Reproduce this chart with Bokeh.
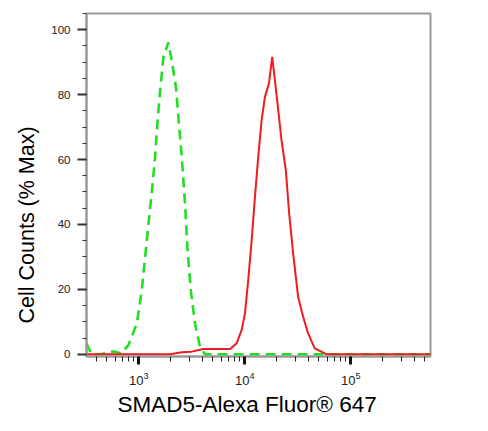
from bokeh.plotting import figure
from bokeh.models import FixedTicker, SingleIntervalTicker, LogTickFormatter, Title, Range1d
from bokeh.embed import file_html
from bokeh.resources import INLINE

# ---- data ----
green_x = [318, 360, 430, 481, 540, 597, 680, 798, 958, 1067, 1189, 1327, 1425, 1497,
           1588, 1707, 1901, 2046, 2248, 2364, 2545, 2736, 2873, 3096, 3396, 3786, 4217, 570000]
green_y = [3.4, 0, 0, 0.3, 0.8, 0.8, 0.2, 2.8, 9.4, 19.7, 35, 50, 60.7, 71,
           81, 91.5, 96.1, 90.5, 82, 73, 60.7, 46, 33, 19.7, 9.4, 2.2, 0, 0]

red_x = [318, 1974, 2545, 3155, 4060, 7300, 8070, 8400, 9350, 10050, 10790, 11620, 12480,
         13400, 14420, 15490, 16900, 18160, 20230, 22230, 24420, 26240, 28600, 31880,
         35480, 39540, 45710, 58880, 570000]
red_y = [0, 0, 0.6, 0.8, 1.6, 1.6, 2.9, 3.4, 7.5, 12.6, 22.9, 35.2, 48.5,
         60.8, 72.1, 79.3, 83.4, 91.6, 78.2, 65.9, 56.7, 43.4, 31.1, 17.7,
         11.6, 6.5, 1.8, 0, 0]

x_major = [1e3, 1e4, 1e5]
x_minor = [m * 10 ** e for e in (2, 3, 4, 5) for m in range(2, 10) if 300 <= m * 10 ** e <= 560000]

y_label = "Cell Counts (% Max)"
x_label = "SMAD5-Alexa Fluor® 647"

FONT = "Liberation Sans"

p = figure(width=486, height=429, x_axis_type="log",
           x_range=Range1d(321, 566000), y_range=Range1d(-0.7, 105),
           output_backend="svg", toolbar_location=None,
           min_border_left=86, min_border_right=56, min_border_top=13, min_border_bottom=73)

p.background_fill_color = "white"
p.border_fill_color = "white"
p.outline_line_color = "#9a9a9a"
p.outline_line_width = 2
p.xgrid.visible = False
p.ygrid.visible = False

p.line(green_x, green_y, line_color="#22dd22", line_width=2.6, line_dash="10 6")
p.line(red_x, red_y, line_color="#ee1c1c", line_width=2)

# y axis
ya = p.yaxis[0]
ya.ticker = SingleIntervalTicker(interval=20, num_minor_ticks=4)
ya.axis_line_color = "#9a9a9a"
ya.axis_line_width = 2
ya.major_tick_line_color = "#333333"
ya.major_tick_line_width = 2
ya.major_tick_out = 9
ya.major_tick_in = 0
ya.minor_tick_line_color = "#333333"
ya.minor_tick_out = 4
ya.minor_tick_in = 0
ya.major_label_text_font = FONT
ya.major_label_text_font_size = "11.5px"
ya.major_label_text_color = "#222222"
ya.major_label_standoff = 7

# x axis
xa = p.xaxis[0]
xa.ticker = FixedTicker(ticks=x_major, minor_ticks=x_minor)
xa.formatter = LogTickFormatter()
xa.axis_line_color = "#9a9a9a"
xa.axis_line_width = 2
xa.major_tick_line_color = "#111111"
xa.major_tick_line_width = 3
xa.major_tick_out = 8
xa.major_tick_in = 0
xa.minor_tick_line_color = "#222222"
xa.minor_tick_out = 5
xa.minor_tick_in = 0
xa.major_label_text_font = FONT
xa.major_label_text_font_size = "13px"
xa.major_label_text_color = "#222222"
xa.major_label_standoff = 7

# axis titles
p.add_layout(Title(text=y_label, align="left", offset=33, standoff=19,
                   text_font=FONT, text_font_size="21.5px", text_font_style="normal",
                   text_color="black"), "left")
p.add_layout(Title(text=x_label, align="left", offset=31, standoff=4,
                   text_font=FONT, text_font_size="22.5px", text_font_style="normal",
                   text_color="black"), "below")

open("out.html", "w").write(file_html(p, INLINE))
